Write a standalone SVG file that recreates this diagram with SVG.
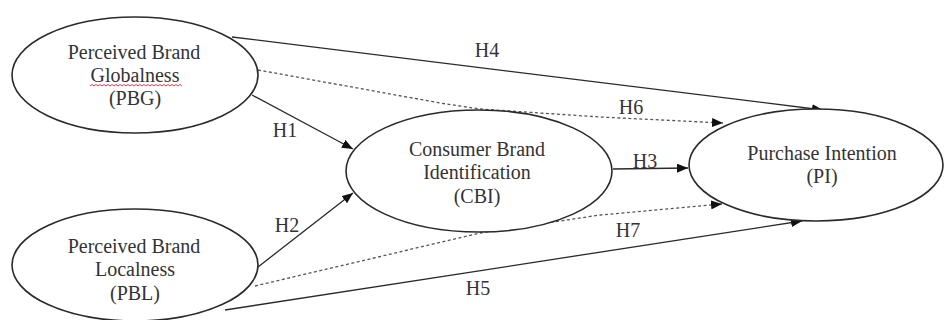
<svg xmlns="http://www.w3.org/2000/svg" width="944" height="320" viewBox="0 0 944 320">
<style>
.node{fill:#fff;stroke:#2a2a2a;stroke-width:1.6}
.t{font-family:"Liberation Serif","Times New Roman",serif;font-size:20px;fill:#333;text-anchor:middle}
.c{fill:none;stroke:#2a2a2a;stroke-width:1.3}
.d{stroke-dasharray:3 2.5;stroke:#555}
</style>
<defs>
<marker id="arr" markerUnits="userSpaceOnUse" markerWidth="11" markerHeight="9" refX="11" refY="4.5" orient="auto">
<path d="M0,0 L11,4.5 L0,9 z" fill="#111"/>
</marker>
</defs>
<rect width="944" height="320" fill="#fff"/>
<g id="connectors">
<line class="c" x1="232" y1="37" x2="823" y2="110" marker-end="url(#arr)"/>
<polyline class="c d" points="258,70 440,103 480,109 600,117 723,123" marker-end="url(#arr)"/>
<line class="c" x1="252" y1="95" x2="353" y2="149" marker-end="url(#arr)"/>
<line class="c" x1="258" y1="267" x2="353" y2="193" marker-end="url(#arr)"/>
<polyline class="c d" points="255,286 480,233 600,215 722,204" marker-end="url(#arr)"/>
<line class="c" x1="225" y1="310" x2="802" y2="221" marker-end="url(#arr)"/>
<line class="c" x1="613" y1="169" x2="688" y2="168" marker-end="url(#arr)"/>
<text class="t" x="487" y="57">H4</text>
<text class="t" x="631" y="114">H6</text>
<text class="t" x="285" y="137">H1</text>
<text class="t" x="287" y="232">H2</text>
<text class="t" x="645" y="168">H3</text>
<text class="t" x="628" y="237">H7</text>
<text class="t" x="478" y="295">H5</text>
</g>
<g id="PBG">
<ellipse class="node" cx="135" cy="75" rx="123" ry="58"/>
<text class="t" x="134" y="59">Perceived Brand</text>
<text class="t" x="135" y="82">Globalness</text>
<path d="M90,86 l2,-1.5 l2,1.5 l2,-1.5 l2,1.5 l2,-1.5 l2,1.5 l2,-1.5 l2,1.5 l2,-1.5 l2,1.5 l2,-1.5 l2,1.5 l2,-1.5 l2,1.5 l2,-1.5 l2,1.5 l2,-1.5 l2,1.5 l2,-1.5 l2,1.5 l2,-1.5 l2,1.5 l2,-1.5 l2,1.5 l2,-1.5 l2,1.5 l2,-1.5 l2,1.5 l2,-1.5 l2,1.5 l2,-1.5 l2,1.5 l2,-1.5 l2,1.5 l2,-1.5 l2,1.5 l2,-1.5 l2,1.5 l2,-1.5 l2,1.5 l2,-1.5 l2,1.5 l2,-1.5 l2,1.5 l2,-1.5 l2,1.5" fill="none" stroke="#e0405a" stroke-width="1"/>
<text class="t" x="135" y="105">(PBG)</text>
</g>
<g id="PBL">
<ellipse class="node" cx="135" cy="265" rx="123" ry="56"/>
<text class="t" x="134" y="253">Perceived Brand</text>
<text class="t" x="135" y="276">Localness</text>
<text class="t" x="135" y="300">(PBL)</text>
</g>
<g id="CBI">
<ellipse class="node" cx="479" cy="171" rx="133" ry="61"/>
<text class="t" x="477" y="156">Consumer Brand</text>
<text class="t" x="477" y="179">Identification</text>
<text class="t" x="477" y="203">(CBI)</text>
</g>
<g id="PI">
<ellipse class="node" cx="816" cy="165" rx="127" ry="56"/>
<text class="t" x="822" y="160">Purchase Intention</text>
<text class="t" x="822" y="183">(PI)</text>
</g>
</svg>
